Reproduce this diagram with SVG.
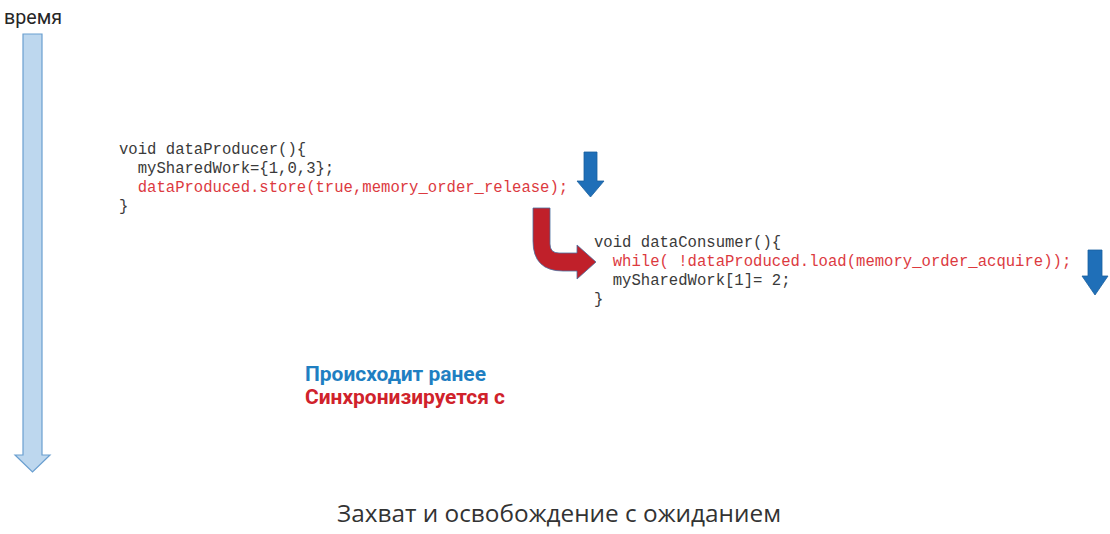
<svg xmlns="http://www.w3.org/2000/svg" width="1110" height="534" viewBox="0 0 1110 534">
<style>
.code{font-family:"Liberation Mono","Courier New",monospace;font-size:15.6px;fill:#3a3a3a}
.red{fill:#dc3a3f}
.lbl{font-family:Roboto,"Liberation Sans",sans-serif;font-weight:bold;font-size:20px}
.blue-arrow{fill:#1f6fb8;stroke:#1a5f9e;stroke-width:0.8}
</style>
<rect width="1110" height="534" fill="#ffffff"/>
<g id="time-axis">
<text x="4" y="24" font-family="Roboto,'Liberation Sans',sans-serif" font-size="20" fill="#262626" textLength="58" lengthAdjust="spacingAndGlyphs">время</text>
<path d="M23,34 L42,34 L42,455 L50,455 L32.5,472 L15,455 L23,455 Z" fill="#bdd7ee" stroke="#6a9fd0" stroke-width="1.2"/>
</g>
<g id="producer">
<text class="code" x="119" y="154">void dataProducer(){</text>
<text class="code" x="119" y="173" xml:space="preserve">  mySharedWork={1,0,3};</text>
<text class="code red" x="119" y="192" xml:space="preserve">  dataProduced.store(true,memory_order_release);</text>
<text class="code" x="119" y="211">}</text>
</g>
<g id="consumer">
<text class="code" x="594" y="247">void dataConsumer(){</text>
<text class="code red" x="594" y="266" xml:space="preserve">  while( !dataProduced.load(memory_order_acquire));</text>
<text class="code" x="594" y="285" xml:space="preserve">  mySharedWork[1]= 2;</text>
<text class="code" x="594" y="304">}</text>
</g>
<g id="connectors">
<path class="blue-arrow" d="M584,152 L597,152 L597,181 L604,181 L590.5,197 L577,181 L584,181 Z"/>
<path class="blue-arrow" d="M1088,250 L1102,250 L1102,276 L1108,276 L1095,295 L1082,276 L1088,276 Z"/>
<path d="M533,208 L550,208 L550,244 Q550,253 559,253 L577,253 L577,245 L596,262 L577,279 L577,271 L563,271 Q533,271 533,241 Z" fill="#c0202a" stroke="#4a6fa0" stroke-width="0.8"/>
</g>
<g id="legend">
<text class="lbl" x="305" y="381" fill="#1f7fc2" textLength="181" lengthAdjust="spacingAndGlyphs">Происходит ранее</text>
<text class="lbl" x="305" y="404" fill="#d0222b" textLength="200" lengthAdjust="spacingAndGlyphs">Синхронизируется с</text>
</g>
<g id="caption">
<text x="337" y="522" font-family="'Open Sans','Noto Sans',sans-serif" font-size="24" fill="#333333" textLength="444" lengthAdjust="spacingAndGlyphs">Захват и освобождение с ожиданием</text>
</g>
</svg>
